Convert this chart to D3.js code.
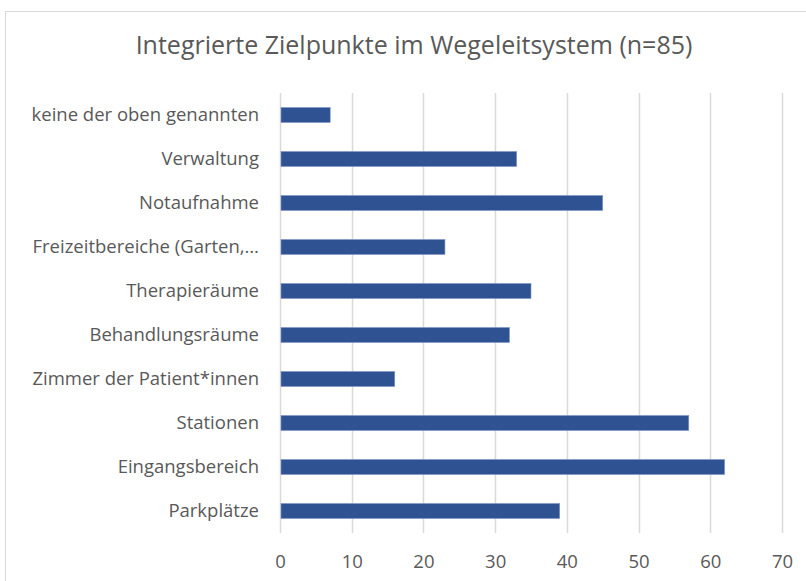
<!DOCTYPE html>
<html>
<head>
<meta charset="utf-8">
<script src="https://cdn.jsdelivr.net/npm/d3@7"></script>
<style>
  body { margin: 0; background: #fff; }
  text { font-family: "Open Sans", sans-serif; fill: #595959; }
</style>
</head>
<body>
<div class="chart"></div>
<script>
// categories top to bottom, as in the picture
var categories = [
	'keine der oben genannten',
	'Verwaltung',
	'Notaufnahme',
	'Freizeitbereiche (Garten,\u2026',
	'Therapieräume',
	'Behandlungsräume',
	'Zimmer der Patient*innen',
	'Stationen',
	'Eingangsbereich',
	'Parkplätze'
];
var values = [7, 33, 45, 23, 35, 32, 16, 57, 62, 39];
var ticks = [0, 10, 20, 30, 40, 50, 60, 70];
var title = 'Integrierte Zielpunkte im Wegeleitsystem (n=85)';

var width = 806;
var height = 581;

var svg = d3.select('.chart').append('svg')
	.attr('width', width)
	.attr('height', height);

// chart frame, only top and left edges fall inside the picture
svg.append('rect')
	.attr('x', 5.5)
	.attr('y', 11.5)
	.attr('width', 900)
	.attr('height', 700)
	.attr('fill', 'none')
	.attr('stroke', '#d9d9d9');

svg.append('text')
	.attr('x', 414)
	.attr('y', 54)
	.attr('text-anchor', 'middle')
	.attr('font-size', 25)
	.text(title);

var x = d3.scaleLinear().domain([0, 70]).range([280, 782]);
var y = d3.scaleBand().domain(categories).range([93, 533]).paddingInner(0.66).paddingOuter(0.33);

// vertical gridlines
svg.append('g')
	.attr('class', 'grid')
	.selectAll('line')
	.data(ticks)
	.enter().append('line')
	.attr('x1', function(d) { return Math.round(x(d)) + 0.5; })
	.attr('x2', function(d) { return Math.round(x(d)) + 0.5; })
	.attr('y1', 93)
	.attr('y2', 533)
	.attr('stroke', '#d9d9d9')
	.attr('stroke-width', 1.5);

// bars
svg.append('g')
	.selectAll('rect')
	.data(values)
	.enter().append('rect')
	.attr('x', x(0) + 1)
	.attr('y', function(d, i) { return y(categories[i]); })
	.attr('width', function(d) { return x(d) - x(0) - 1; })
	.attr('height', y.bandwidth())
	.attr('fill', '#2f5293')
	.attr('stroke', '#7f96c4')
	.attr('stroke-width', 0.6);

// category labels
var yAxis = svg.append('g')
	.attr('transform', 'translate(280,0)')
	.call(d3.axisLeft(y).tickSize(0).tickPadding(21));
yAxis.select('.domain').remove();
yAxis.selectAll('text')
	.attr('font-size', 18.5)
	.attr('font-family', '"Open Sans", sans-serif')
	.attr('fill', '#595959');

// value axis labels
var xAxis = svg.append('g')
	.attr('transform', 'translate(0,533)')
	.call(d3.axisBottom(x).tickValues(ticks).tickSize(0).tickPadding(22));
xAxis.select('.domain').remove();
xAxis.selectAll('text')
	.attr('font-size', 18.5)
	.attr('font-family', '"Open Sans", sans-serif')
	.attr('fill', '#595959');
</script>
</body>
</html>
